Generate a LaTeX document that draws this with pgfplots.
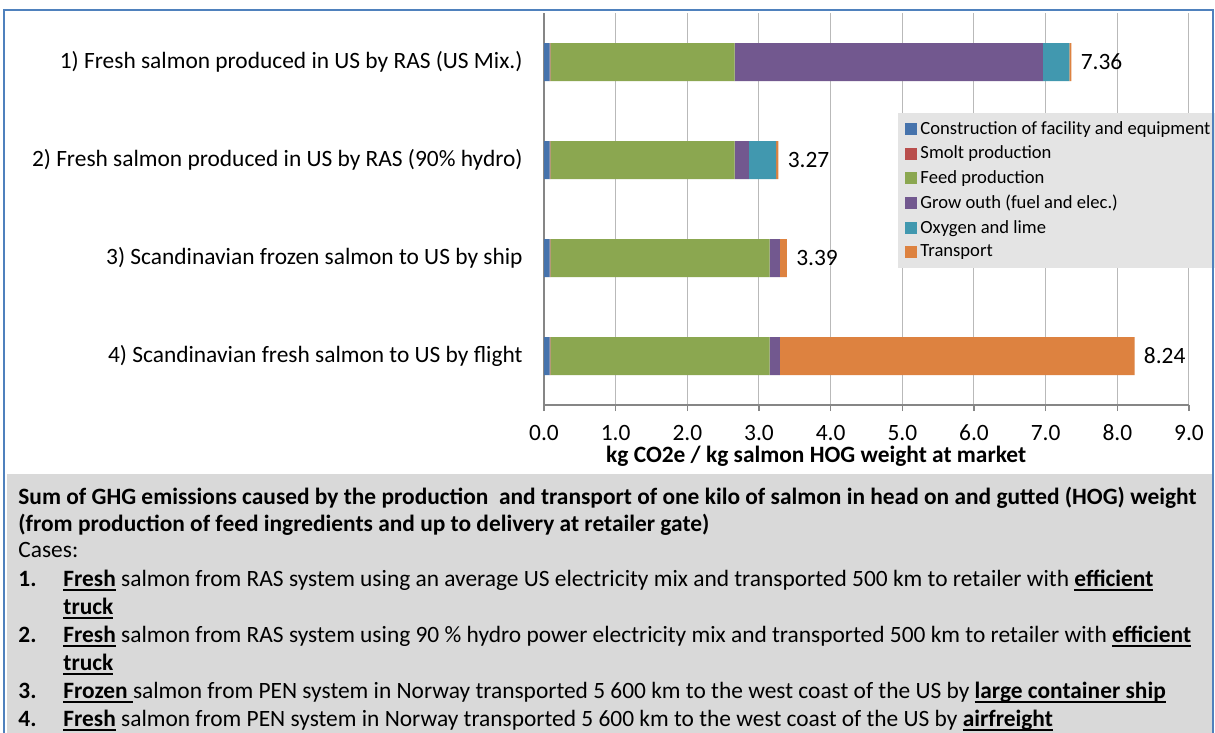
\documentclass[border=0pt]{standalone}
\usepackage{fontspec}
\setmainfont{Carlito}
\usepackage{pgfplots}
\pgfplotsset{compat=1.18}
\usepackage{pgfplotstable}

\definecolor{cblue}{RGB}{70,115,172}
\definecolor{cred}{RGB}{185,78,76}
\definecolor{cgreen}{RGB}{139,167,80}
\definecolor{cpurple}{RGB}{114,88,143}
\definecolor{cteal}{RGB}{65,152,175}
\definecolor{corange}{RGB}{221,130,64}
\definecolor{gridc}{RGB}{185,185,185}
\definecolor{axisc}{RGB}{134,134,134}
\definecolor{legfill}{RGB}{228,228,228}
\definecolor{boxfill}{RGB}{217,217,217}
\definecolor{framec}{RGB}{79,129,189}

\newcommand\fs{\fontsize{11.7}{14}\selectfont}
\newcommand\ul[1]{\setbox0\hbox{#1}\rlap{\rule[-2.4pt]{\wd0}{0.9pt}}\box0\relax}

\pgfplotstableread{
y constr smolt feed grow oxy trans total
3 0.08 0.01 2.57 4.30 0.37 0.03 7.36
2 0.08 0.01 2.57 0.20 0.38 0.03 3.27
1 0.08 0.01 3.06 0.14 0.00 0.10 3.39
0 0.08 0.01 3.06 0.14 0.00 4.95 8.24
}\data

\begin{document}
\begin{tikzpicture}
\path[use as bounding box] (0pt,0pt) rectangle (607.5pt,-366.5pt);
\fill[white] (0pt,0pt) rectangle (607.5pt,-366.5pt);

\begin{axis}[
  at={(272pt,-202.5pt)}, anchor=south west,
  scale only axis, width=322.5pt, height=196pt,
  xmin=0, xmax=9, ymin=-0.5, ymax=3.5,
  xbar stacked, bar width=19pt,
  axis x line*=bottom, axis y line*=left,
  axis line style={axisc, line width=0.6pt},
  xtick={0,1,...,9},
  xmajorgrids, major grid style={gridc, line width=0.5pt},
  tick align=outside,
  major tick length=3pt,
  tick style={axisc, line width=0.6pt},
  xticklabel style={font=\fs, inner sep=0pt, text height=8pt, text depth=0pt, yshift=-6.6pt, /pgf/number format/.cd, fixed, fixed zerofill, precision=1, assume math mode=true},
  ytick={0,1,2,3},
  yticklabels={4) Scandinavian fresh salmon to US by flight,
               3) Scandinavian frozen salmon to US by ship,
               2) Fresh salmon produced in US by RAS (90\% hydro),
               1) Fresh salmon produced in US by RAS (US Mix.)},
  y tick style={draw=none},
  minor ytick={-0.5,0.5,1.5,2.5,3.5},
  minor y tick style={axisc, line width=0.6pt},
  minor tick length=4pt,
  yticklabel style={font=\fs, anchor=east, inner sep=0pt, xshift=-7.5pt},
  xlabel={\textbf{kg CO2e / kg salmon HOG weight at market}},
  xlabel style={at={(axis description cs:0.422,0)}, anchor=base, inner sep=0pt, yshift=-28.8pt, font=\fs},
  legend style={at={(0.549,0.745)}, anchor=north west, fill=legfill, draw=none,
     font=\fontsize{9.3}{11}\selectfont, inner xsep=3.5pt, inner ysep=2.5pt,
     row sep=1.3pt, nodes={inner sep=1.5pt}, cells={anchor=west}},
  legend cell align=left,
  legend image code/.code={\fill[#1] (0pt,-3pt) rectangle (6pt,3pt);},
  every axis plot/.append style={draw=none},
  clip=false,
]
\addplot[fill=cblue] table[x=constr, y=y] {\data};
\addlegendentry{Construction of facility and equipment}
\addplot[fill=cred] table[x=smolt, y=y] {\data};
\addlegendentry{Smolt production}
\addplot[fill=cgreen] table[x=feed, y=y] {\data};
\addlegendentry{Feed production}
\addplot[fill=cpurple] table[x=grow, y=y] {\data};
\addlegendentry{Grow outh (fuel and elec.)}
\addplot[fill=cteal] table[x=oxy, y=y] {\data};
\addlegendentry{Oxygen and lime}
\addplot[fill=corange] table[x=trans, y=y] {\data};
\addlegendentry{Transport}
\end{axis}

% totals as labels (overlay axis with identical geometry)
\begin{axis}[
  at={(272pt,-202.5pt)}, anchor=south west,
  scale only axis, width=322.5pt, height=196pt,
  xmin=0, xmax=9, ymin=-0.5, ymax=3.5,
  hide axis, clip=false,
]
\addplot[only marks, mark=none, nodes near coords, point meta=explicit symbolic,
  nodes near coords style={anchor=west, font=\fs, black, inner sep=0pt, xshift=4.5pt}]
  table[x=total, y=y, meta=total] {\data};
\end{axis}

% description box
\fill[boxfill] (3.5pt,-237pt) rectangle (606pt,-366.5pt);
\begin{scope}[every node/.style={anchor=base west, inner sep=0pt, font=\fs}]
\node at (9pt,-252pt) {\textbf{Sum of GHG emissions caused by the production~ and transport of one kilo of salmon in head on and gutted (HOG) weight}};
\node at (9pt,-265.5pt) {\textbf{(from production of feed ingredients and up to delivery at retailer gate)}};
\node at (9pt,-278.5pt) {Cases:};
\node at (9pt,-293pt) {\textbf{1.}};
\node at (31.5pt,-293pt) {\ul{\textbf{Fresh}} salmon from RAS system using an average US electricity mix and transported 500 km to retailer with \ul{\textbf{efficient}}};
\node at (31.5pt,-307pt) {\ul{\textbf{truck}}};
\node at (9pt,-321pt) {\textbf{2.}};
\node at (31.5pt,-321pt) {\ul{\textbf{Fresh}} salmon from RAS system using 90 \% hydro power electricity mix and transported 500 km to retailer with \ul{\textbf{efficient}}};
\node at (31.5pt,-335pt) {\ul{\textbf{truck}}};
\node at (9pt,-349pt) {\textbf{3.}};
\node at (31.5pt,-349pt) {\ul{\textbf{Frozen }}salmon from PEN system in Norway transported 5 600 km to the west coast of the US by \ul{\textbf{large container ship}}};
\node at (9pt,-363pt) {\textbf{4.}};
\node at (31.5pt,-363pt) {\ul{\textbf{Fresh}} salmon from PEN system in Norway transported 5 600 km to the west coast of the US by \ul{\textbf{airfreight}}};
\end{scope}

% frame
\draw[framec, line width=1.2pt] (2pt,-366.5pt) -- (2pt,-5pt) -- (606.5pt,-5pt) -- (606.5pt,-366.5pt);
\end{tikzpicture}
\end{document}
